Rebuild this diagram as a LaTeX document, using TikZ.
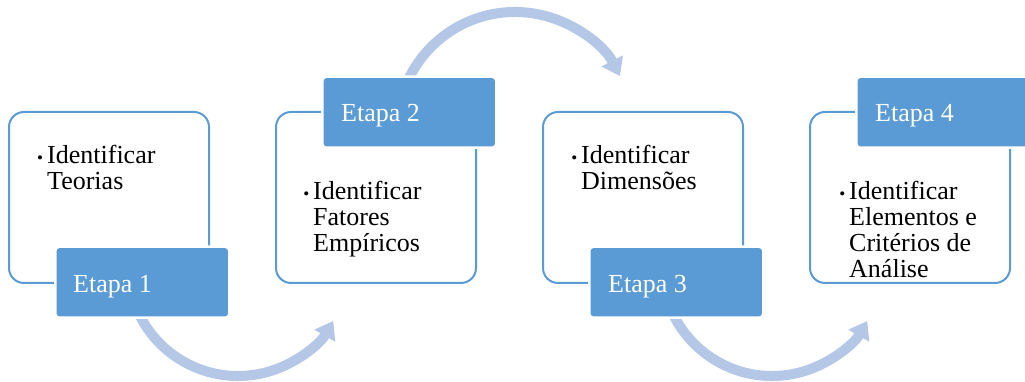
\documentclass[tikz,border=0pt]{standalone}
\usepackage{fontspec}
\setmainfont{Liberation Serif}
\usetikzlibrary{arrows.meta}
\definecolor{stepblue}{RGB}{91,155,213}
\definecolor{arrowblue}{RGB}{180,199,231}
\tikzset{
  wbox/.style={draw=stepblue, line width=2pt, fill=white, rounded corners=15pt,
    minimum width=200pt, minimum height=171pt, inner sep=0pt},
  bbox/.style={draw=white, line width=2.5pt, fill=stepblue, rounded corners=4pt,
    minimum width=174pt, minimum height=71pt, inner sep=0pt},
  txt/.style={font=\fontsize{26}{26}\selectfont, text width=180pt, align=flush left,
    inner sep=0pt, anchor=base west},
  etxt/.style={font=\fontsize{26}{26}\selectfont, text=white, inner sep=0pt, anchor=base west},
  flow/.style={draw=arrowblue, line width=10pt,
    -{Triangle[length=17pt,width=23pt]}},
}
\newcommand{\bulmark}{\llap{{\fontsize{17}{17}\selectfont •}\hspace{4pt}}}
\begin{document}
\begin{tikzpicture}[x=1pt,y=1pt]
\useasboundingbox (0,0) rectangle (1025,382);
% arrows (behind boxes)
\coordinate (c1) at (238,116);
\coordinate (c2) at (515,252);
\coordinate (c3) at (772,116);
\draw[flow] ([shift={(c1)}]200:110) arc[start angle=200, end angle=330, radius=110];
\draw[flow] ([shift={(c2)}]165:118) arc[start angle=165, end angle=27.2, radius=118];
\draw[flow] ([shift={(c3)}]200:110) arc[start angle=200, end angle=330, radius=110];
% white boxes
\node[wbox, anchor=south west] (w1) at (8,98) {};
\node[wbox, anchor=south west] (w2) at (275,98) {};
\node[wbox, anchor=south west] (w3) at (542,98) {};
\node[wbox, anchor=south west] (w4) at (809,98) {};
% blue boxes
\node[bbox, anchor=south west] (b1) at (54,63) {};
\node[bbox, anchor=south west] (b2) at (321,233) {};
\node[bbox, anchor=south west] (b3) at (588,63) {};
\node[bbox, anchor=south west] (b4) at (855,233) {};
% labels
\node[etxt] (e1) at (73,89) {Etapa 1};
\node[etxt] (e2) at (341,260) {Etapa 2};
\node[etxt] (e3) at (608,89) {Etapa 3};
\node[etxt] (e4) at (875,260) {Etapa 4};
% bullet texts
\node[txt] (t1) at (47,218) {\bulmark Identificar\\Teorias};
\node[txt] (t2) at (313,182) {\bulmark Identificar\\Fatores\\Empíricos};
\node[txt] (t3) at (581,218) {\bulmark Identificar\\Dimensões};
\node[txt] (t4) at (849,182) {\bulmark Identificar\\Elementos e\\Critérios de\\Análise};
\end{tikzpicture}
\end{document}
